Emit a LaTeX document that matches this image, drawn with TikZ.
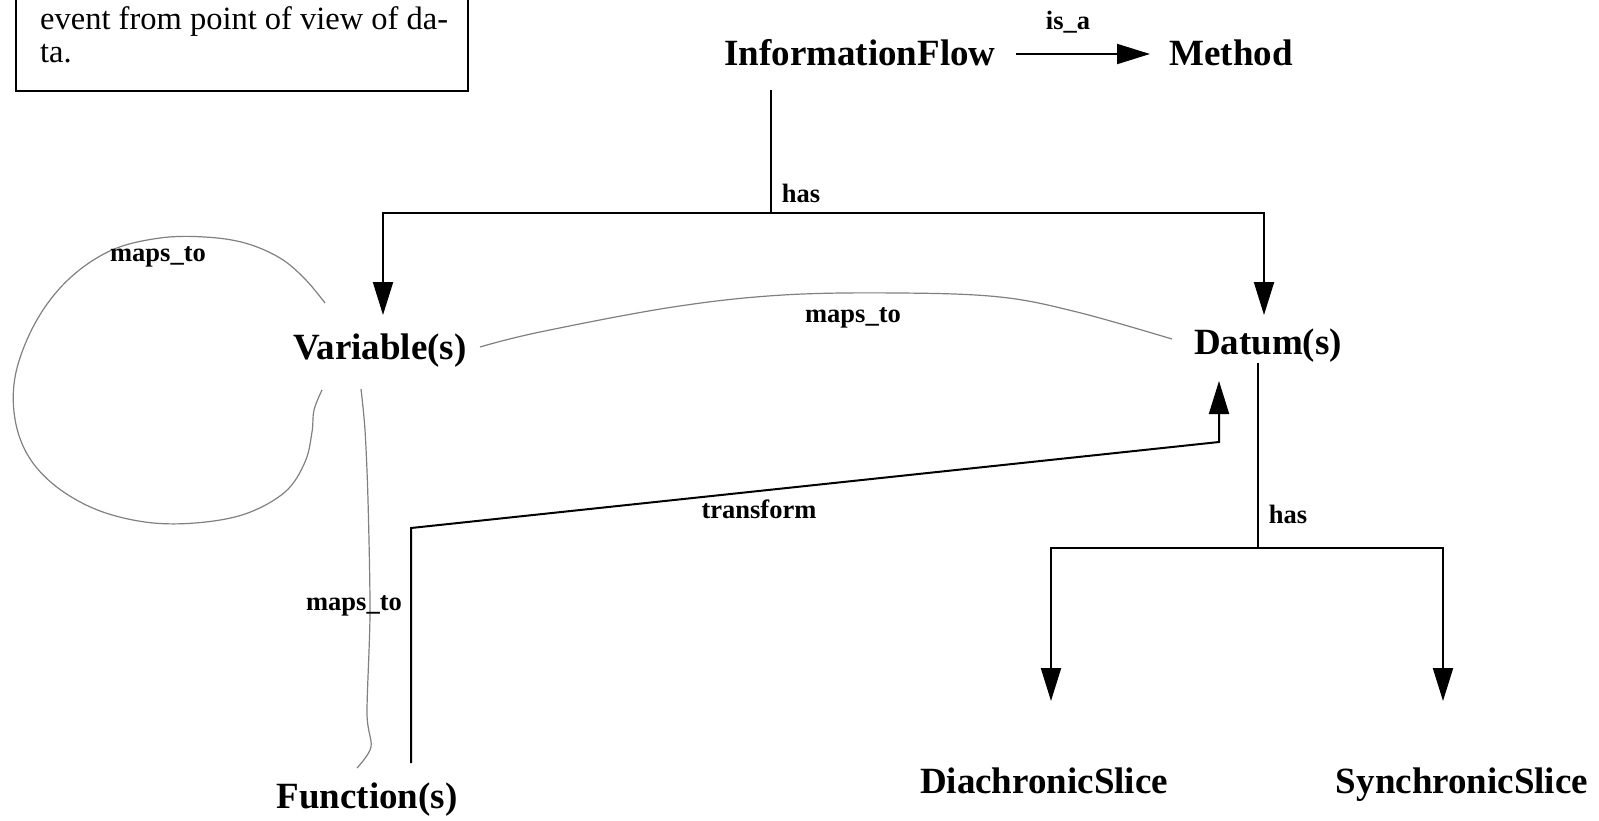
\documentclass[tikz,border=0pt]{standalone}
\usepackage{fontspec}
\setmainfont{Liberation Serif}
\usetikzlibrary{arrows.meta}

\newcommand\conceptfont{\bfseries\fontsize{37}{44}\selectfont}
\newcommand\relfont{\bfseries\fontsize{26.5}{32}\selectfont}
\newcommand\notefont{\fontsize{32.5}{37}\selectfont}

\tikzset{
  concept/.style={font=\conceptfont, inner sep=0pt, anchor=base},
  rellabel/.style={font=\relfont, inner sep=0pt, anchor=base},
  notetext/.style={font=\notefont, inner sep=0pt, anchor=base west},
  link/.style={line width=2pt, black},
  linkarrow/.style={link, -{Triangle[length=33pt, width=20pt]}},
  maplink/.style={line width=1.2pt, color=black!50},
}

\begin{document}
\begin{tikzpicture}[x=1pt, y=-1pt]
\useasboundingbox (0,0) rectangle (1599,820);
\clip (0,0) rectangle (1599,820);

% note box in the upper left corner
\draw[line width=2pt] (16,-60) rectangle (468,91);
\node[notetext] (note1) at (40,29) {event from point of view of da-};
\node[notetext] (note2) at (40,62) {ta.};

% concepts
\node[concept] (info)   at (860,65)  {InformationFlow};
\node[concept] (method) at (1231,65) {Method};
\node[concept] (var)    at (380,359) {Variable(s)};
\node[concept] (dat)    at (1268,354) {Datum(s)};
\node[concept] (fun)    at (367,808) {Function(s)};
\node[concept] (dia)    at (1044,793) {DiachronicSlice};
\node[concept] (syn)    at (1462,793) {SynchronicSlice};

% connector ports
\coordinate (info-r)   at (1016,54);
\coordinate (method-l) at (1150,54);
\coordinate (info-b)   at (771,90);
\coordinate (has-j)    at (771,213);
\coordinate (var-t)    at (383,315);
\coordinate (dat-t)    at (1264,315);
\coordinate (dat-b)    at (1258,363);
\coordinate (slice-j)  at (1258,548);
\coordinate (dia-t)    at (1051,701);
\coordinate (syn-t)    at (1443,701);
\coordinate (fun-t)    at (411,763);
\coordinate (dat-in)   at (1219,381);

% is_a
\draw[linkarrow] (info-r) -- (method-l);
\node[rellabel] (isa) at (1068,29) {is\_a};

% InformationFlow has Variable(s), Datum(s)
\draw[link] (info-b) -- (has-j);
\draw[linkarrow] (has-j) -| (var-t);
\draw[linkarrow] (has-j) -| (dat-t);
\node[rellabel] (has1) at (801,202) {has};

% Datum(s) has DiachronicSlice, SynchronicSlice
\draw[link] (dat-b) -- (slice-j);
\draw[linkarrow] (slice-j) -| (dia-t);
\draw[linkarrow] (slice-j) -| (syn-t);
\node[rellabel] (has2) at (1288,523) {has};

% Function(s) transform Datum(s)
\draw[linkarrow] (fun-t) -- (411,528) -- (1219,442) -- (dat-in);
\node[rellabel] (trans) at (759,518) {transform};

% maps_to: Variable(s) -- Datum(s)
\draw[maplink] plot[smooth, tension=0.6] coordinates {
  (480,347) (540,332) (673,307) (783,295) (900,293) (1000,297) (1077,312) (1172,339)};
\node[rellabel] (map1) at (853,322) {maps\_to};

% maps_to: Variable(s) onto itself
\draw[maplink] plot[smooth, tension=0.6] coordinates {
  (325,303) (305,279) (280,258) (245,243) (205,237) (160,238) (112,250)
  (70,278) (38,318) (17,368) (14,412) (26,452) (53,484) (95,509) (145,522)
  (195,523) (245,514) (285,492) (305,462) (312,432) (314,410) (322,390)};
\node[rellabel] (map2) at (158,261) {maps\_to};

% maps_to: Variable(s) -- Function(s)
\draw[maplink] plot[smooth, tension=0.5] coordinates {
  (361,389) (365,430) (368,500) (370,613) (367,713) (371,747) (357,768)};
\node[rellabel] (map3) at (354,610) {maps\_to};

\end{tikzpicture}
\end{document}
